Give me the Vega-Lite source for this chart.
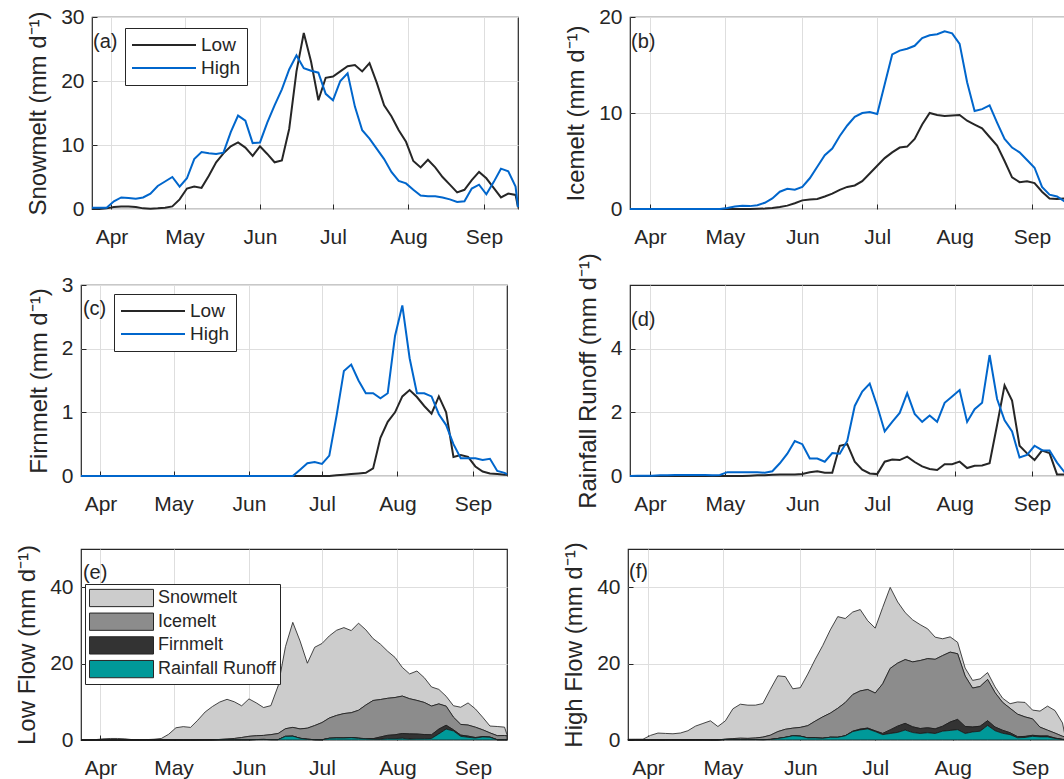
{
"$schema": "https://vega.github.io/schema/vega-lite/v6.json",
"background": "white",
"padding": {"left": 15, "top": 5, "right": -5, "bottom": 0},
"datasets": {"components": [
{"component":"Rainfall Runoff","rank":1},
{"component":"Firnmelt","rank":2},
{"component":"Icemelt","rank":3},
{"component":"Snowmelt","rank":4}
],
"flows": [
{"date":"2001-03-24","flow":"Low","Snowmelt":0,"Icemelt":0,"Firnmelt":0,"Rainfall Runoff":0},
{"date":"2001-03-27","flow":"Low","Snowmelt":0,"Icemelt":0,"Firnmelt":0,"Rainfall Runoff":0},
{"date":"2001-03-30","flow":"Low","Snowmelt":0.1,"Icemelt":0,"Firnmelt":0,"Rainfall Runoff":0},
{"date":"2001-04-02","flow":"Low","Snowmelt":0.3,"Icemelt":0,"Firnmelt":0,"Rainfall Runoff":0},
{"date":"2001-04-05","flow":"Low","Snowmelt":0.4,"Icemelt":0,"Firnmelt":0,"Rainfall Runoff":0},
{"date":"2001-04-08","flow":"Low","Snowmelt":0.4,"Icemelt":0,"Firnmelt":0,"Rainfall Runoff":0},
{"date":"2001-04-11","flow":"Low","Snowmelt":0.3,"Icemelt":0,"Firnmelt":0,"Rainfall Runoff":0},
{"date":"2001-04-14","flow":"Low","Snowmelt":0.1,"Icemelt":0,"Firnmelt":0,"Rainfall Runoff":0},
{"date":"2001-04-17","flow":"Low","Snowmelt":0.05,"Icemelt":0,"Firnmelt":0,"Rainfall Runoff":0},
{"date":"2001-04-20","flow":"Low","Snowmelt":0.1,"Icemelt":0,"Firnmelt":0,"Rainfall Runoff":0},
{"date":"2001-04-23","flow":"Low","Snowmelt":0.2,"Icemelt":0,"Firnmelt":0,"Rainfall Runoff":0},
{"date":"2001-04-26","flow":"Low","Snowmelt":0.4,"Icemelt":0,"Firnmelt":0,"Rainfall Runoff":0},
{"date":"2001-04-29","flow":"Low","Snowmelt":1.5,"Icemelt":0,"Firnmelt":0,"Rainfall Runoff":0},
{"date":"2001-05-02","flow":"Low","Snowmelt":3.2,"Icemelt":0,"Firnmelt":0,"Rainfall Runoff":0},
{"date":"2001-05-05","flow":"Low","Snowmelt":3.5,"Icemelt":0,"Firnmelt":0,"Rainfall Runoff":0},
{"date":"2001-05-08","flow":"Low","Snowmelt":3.3,"Icemelt":0,"Firnmelt":0,"Rainfall Runoff":0},
{"date":"2001-05-11","flow":"Low","Snowmelt":5.2,"Icemelt":0,"Firnmelt":0,"Rainfall Runoff":0.01},
{"date":"2001-05-14","flow":"Low","Snowmelt":7.3,"Icemelt":0.02,"Firnmelt":0,"Rainfall Runoff":0.02},
{"date":"2001-05-17","flow":"Low","Snowmelt":8.7,"Icemelt":0.05,"Firnmelt":0,"Rainfall Runoff":0.02},
{"date":"2001-05-20","flow":"Low","Snowmelt":9.8,"Icemelt":0.1,"Firnmelt":0,"Rainfall Runoff":0.04},
{"date":"2001-05-23","flow":"Low","Snowmelt":10.4,"Icemelt":0.2,"Firnmelt":0,"Rainfall Runoff":0.05},
{"date":"2001-05-26","flow":"Low","Snowmelt":9.6,"Icemelt":0.35,"Firnmelt":0,"Rainfall Runoff":0.05},
{"date":"2001-05-29","flow":"Low","Snowmelt":8.3,"Icemelt":0.6,"Firnmelt":0,"Rainfall Runoff":0.05},
{"date":"2001-06-01","flow":"Low","Snowmelt":9.8,"Icemelt":0.9,"Firnmelt":0,"Rainfall Runoff":0.06},
{"date":"2001-06-04","flow":"Low","Snowmelt":8.6,"Icemelt":1.0,"Firnmelt":0,"Rainfall Runoff":0.12},
{"date":"2001-06-07","flow":"Low","Snowmelt":7.3,"Icemelt":1.05,"Firnmelt":0,"Rainfall Runoff":0.15},
{"date":"2001-06-10","flow":"Low","Snowmelt":7.6,"Icemelt":1.3,"Firnmelt":0,"Rainfall Runoff":0.1},
{"date":"2001-06-13","flow":"Low","Snowmelt":12.5,"Icemelt":1.6,"Firnmelt":0,"Rainfall Runoff":0.1},
{"date":"2001-06-16","flow":"Low","Snowmelt":21.5,"Icemelt":2.0,"Firnmelt":0,"Rainfall Runoff":0.95},
{"date":"2001-06-19","flow":"Low","Snowmelt":27.5,"Icemelt":2.3,"Firnmelt":0,"Rainfall Runoff":1.0},
{"date":"2001-06-22","flow":"Low","Snowmelt":23,"Icemelt":2.45,"Firnmelt":0,"Rainfall Runoff":0.45},
{"date":"2001-06-25","flow":"Low","Snowmelt":17,"Icemelt":2.9,"Firnmelt":0,"Rainfall Runoff":0.2},
{"date":"2001-06-28","flow":"Low","Snowmelt":20.5,"Icemelt":3.7,"Firnmelt":0,"Rainfall Runoff":0.08},
{"date":"2001-07-01","flow":"Low","Snowmelt":20.7,"Icemelt":4.5,"Firnmelt":0,"Rainfall Runoff":0.06},
{"date":"2001-07-04","flow":"Low","Snowmelt":21.5,"Icemelt":5.3,"Firnmelt":0,"Rainfall Runoff":0.45},
{"date":"2001-07-07","flow":"Low","Snowmelt":22.3,"Icemelt":5.9,"Firnmelt":0.01,"Rainfall Runoff":0.52},
{"date":"2001-07-10","flow":"Low","Snowmelt":22.5,"Icemelt":6.4,"Firnmelt":0.02,"Rainfall Runoff":0.5},
{"date":"2001-07-13","flow":"Low","Snowmelt":21.5,"Icemelt":6.5,"Firnmelt":0.03,"Rainfall Runoff":0.61},
{"date":"2001-07-16","flow":"Low","Snowmelt":22.8,"Icemelt":7.3,"Firnmelt":0.04,"Rainfall Runoff":0.44},
{"date":"2001-07-19","flow":"Low","Snowmelt":19.7,"Icemelt":8.8,"Firnmelt":0.05,"Rainfall Runoff":0.3},
{"date":"2001-07-22","flow":"Low","Snowmelt":16.2,"Icemelt":10,"Firnmelt":0.12,"Rainfall Runoff":0.22},
{"date":"2001-07-25","flow":"Low","Snowmelt":14.5,"Icemelt":9.8,"Firnmelt":0.6,"Rainfall Runoff":0.19},
{"date":"2001-07-28","flow":"Low","Snowmelt":12.3,"Icemelt":9.7,"Firnmelt":0.85,"Rainfall Runoff":0.37},
{"date":"2001-07-31","flow":"Low","Snowmelt":10.5,"Icemelt":9.75,"Firnmelt":1.0,"Rainfall Runoff":0.37},
{"date":"2001-08-03","flow":"Low","Snowmelt":7.5,"Icemelt":9.8,"Firnmelt":1.25,"Rainfall Runoff":0.45},
{"date":"2001-08-06","flow":"Low","Snowmelt":6.5,"Icemelt":9.2,"Firnmelt":1.35,"Rainfall Runoff":0.25},
{"date":"2001-08-09","flow":"Low","Snowmelt":7.7,"Icemelt":8.8,"Firnmelt":1.24,"Rainfall Runoff":0.32},
{"date":"2001-08-12","flow":"Low","Snowmelt":6.5,"Icemelt":8.4,"Firnmelt":1.1,"Rainfall Runoff":0.33},
{"date":"2001-08-15","flow":"Low","Snowmelt":5.0,"Icemelt":7.5,"Firnmelt":0.98,"Rainfall Runoff":0.4},
{"date":"2001-08-18","flow":"Low","Snowmelt":3.8,"Icemelt":6.6,"Firnmelt":1.25,"Rainfall Runoff":1.6},
{"date":"2001-08-21","flow":"Low","Snowmelt":2.6,"Icemelt":5.0,"Firnmelt":1.0,"Rainfall Runoff":2.85},
{"date":"2001-08-24","flow":"Low","Snowmelt":3.0,"Icemelt":3.3,"Firnmelt":0.3,"Rainfall Runoff":2.37},
{"date":"2001-08-27","flow":"Low","Snowmelt":4.5,"Icemelt":2.8,"Firnmelt":0.33,"Rainfall Runoff":0.95},
{"date":"2001-08-30","flow":"Low","Snowmelt":5.8,"Icemelt":2.9,"Firnmelt":0.3,"Rainfall Runoff":0.71},
{"date":"2001-09-02","flow":"Low","Snowmelt":4.8,"Icemelt":2.7,"Firnmelt":0.15,"Rainfall Runoff":0.5},
{"date":"2001-09-05","flow":"Low","Snowmelt":3.3,"Icemelt":1.8,"Firnmelt":0.07,"Rainfall Runoff":0.8},
{"date":"2001-09-08","flow":"Low","Snowmelt":1.8,"Icemelt":1.1,"Firnmelt":0.04,"Rainfall Runoff":0.72},
{"date":"2001-09-11","flow":"Low","Snowmelt":2.4,"Icemelt":1.05,"Firnmelt":0.03,"Rainfall Runoff":0.05},
{"date":"2001-09-14","flow":"Low","Snowmelt":2.2,"Icemelt":1.1,"Firnmelt":0.02,"Rainfall Runoff":0.05},
{"date":"2001-09-15","flow":"Low","Snowmelt":0.3,"Icemelt":1.0,"Firnmelt":0.02,"Rainfall Runoff":0.05},
{"date":"2001-03-24","flow":"High","Snowmelt":0.2,"Icemelt":0,"Firnmelt":0,"Rainfall Runoff":0},
{"date":"2001-03-27","flow":"High","Snowmelt":0.2,"Icemelt":0,"Firnmelt":0,"Rainfall Runoff":0.01},
{"date":"2001-03-30","flow":"High","Snowmelt":0.2,"Icemelt":0,"Firnmelt":0,"Rainfall Runoff":0.01},
{"date":"2001-04-02","flow":"High","Snowmelt":1.2,"Icemelt":0,"Firnmelt":0,"Rainfall Runoff":0.01},
{"date":"2001-04-05","flow":"High","Snowmelt":1.8,"Icemelt":0,"Firnmelt":0,"Rainfall Runoff":0.02},
{"date":"2001-04-08","flow":"High","Snowmelt":1.7,"Icemelt":0,"Firnmelt":0,"Rainfall Runoff":0.02},
{"date":"2001-04-11","flow":"High","Snowmelt":1.6,"Icemelt":0,"Firnmelt":0,"Rainfall Runoff":0.03},
{"date":"2001-04-14","flow":"High","Snowmelt":1.8,"Icemelt":0,"Firnmelt":0,"Rainfall Runoff":0.03},
{"date":"2001-04-17","flow":"High","Snowmelt":2.4,"Icemelt":0,"Firnmelt":0,"Rainfall Runoff":0.03},
{"date":"2001-04-20","flow":"High","Snowmelt":3.6,"Icemelt":0,"Firnmelt":0,"Rainfall Runoff":0.03},
{"date":"2001-04-23","flow":"High","Snowmelt":4.3,"Icemelt":0,"Firnmelt":0,"Rainfall Runoff":0.03},
{"date":"2001-04-26","flow":"High","Snowmelt":5.0,"Icemelt":0,"Firnmelt":0,"Rainfall Runoff":0.02},
{"date":"2001-04-29","flow":"High","Snowmelt":3.5,"Icemelt":0,"Firnmelt":0,"Rainfall Runoff":0.03},
{"date":"2001-05-02","flow":"High","Snowmelt":4.8,"Icemelt":0.1,"Firnmelt":0,"Rainfall Runoff":0.12},
{"date":"2001-05-05","flow":"High","Snowmelt":7.8,"Icemelt":0.25,"Firnmelt":0,"Rainfall Runoff":0.12},
{"date":"2001-05-08","flow":"High","Snowmelt":8.9,"Icemelt":0.35,"Firnmelt":0,"Rainfall Runoff":0.12},
{"date":"2001-05-11","flow":"High","Snowmelt":8.7,"Icemelt":0.3,"Firnmelt":0,"Rainfall Runoff":0.12},
{"date":"2001-05-14","flow":"High","Snowmelt":8.6,"Icemelt":0.4,"Firnmelt":0,"Rainfall Runoff":0.12},
{"date":"2001-05-17","flow":"High","Snowmelt":8.8,"Icemelt":0.65,"Firnmelt":0,"Rainfall Runoff":0.1},
{"date":"2001-05-20","flow":"High","Snowmelt":12,"Icemelt":1.1,"Firnmelt":0,"Rainfall Runoff":0.15},
{"date":"2001-05-23","flow":"High","Snowmelt":14.6,"Icemelt":1.8,"Firnmelt":0,"Rainfall Runoff":0.4},
{"date":"2001-05-26","flow":"High","Snowmelt":13.8,"Icemelt":2.1,"Firnmelt":0,"Rainfall Runoff":0.7},
{"date":"2001-05-29","flow":"High","Snowmelt":10.3,"Icemelt":2.0,"Firnmelt":0,"Rainfall Runoff":1.1},
{"date":"2001-06-01","flow":"High","Snowmelt":10.4,"Icemelt":2.3,"Firnmelt":0,"Rainfall Runoff":1.0},
{"date":"2001-06-04","flow":"High","Snowmelt":13.5,"Icemelt":3.2,"Firnmelt":0,"Rainfall Runoff":0.55},
{"date":"2001-06-07","flow":"High","Snowmelt":16.2,"Icemelt":4.4,"Firnmelt":0,"Rainfall Runoff":0.55},
{"date":"2001-06-10","flow":"High","Snowmelt":18.7,"Icemelt":5.6,"Firnmelt":0,"Rainfall Runoff":0.45},
{"date":"2001-06-13","flow":"High","Snowmelt":21.8,"Icemelt":6.3,"Firnmelt":0,"Rainfall Runoff":0.72},
{"date":"2001-06-16","flow":"High","Snowmelt":24,"Icemelt":7.6,"Firnmelt":0,"Rainfall Runoff":0.7},
{"date":"2001-06-19","flow":"High","Snowmelt":22,"Icemelt":8.7,"Firnmelt":0,"Rainfall Runoff":1.1},
{"date":"2001-06-22","flow":"High","Snowmelt":21.6,"Icemelt":9.6,"Firnmelt":0.1,"Rainfall Runoff":2.2},
{"date":"2001-06-25","flow":"High","Snowmelt":21.3,"Icemelt":10,"Firnmelt":0.2,"Rainfall Runoff":2.65},
{"date":"2001-06-28","flow":"High","Snowmelt":18,"Icemelt":10.1,"Firnmelt":0.22,"Rainfall Runoff":2.9},
{"date":"2001-07-01","flow":"High","Snowmelt":17,"Icemelt":9.9,"Firnmelt":0.19,"Rainfall Runoff":2.2},
{"date":"2001-07-04","flow":"High","Snowmelt":20,"Icemelt":13,"Firnmelt":0.32,"Rainfall Runoff":1.4},
{"date":"2001-07-07","flow":"High","Snowmelt":21.2,"Icemelt":16.1,"Firnmelt":0.95,"Rainfall Runoff":1.7},
{"date":"2001-07-10","flow":"High","Snowmelt":16,"Icemelt":16.5,"Firnmelt":1.65,"Rainfall Runoff":1.98},
{"date":"2001-07-13","flow":"High","Snowmelt":12.3,"Icemelt":16.7,"Firnmelt":1.75,"Rainfall Runoff":2.6},
{"date":"2001-07-16","flow":"High","Snowmelt":11,"Icemelt":17,"Firnmelt":1.5,"Rainfall Runoff":1.95},
{"date":"2001-07-19","flow":"High","Snowmelt":9.4,"Icemelt":17.8,"Firnmelt":1.3,"Rainfall Runoff":1.7},
{"date":"2001-07-22","flow":"High","Snowmelt":7.8,"Icemelt":18.1,"Firnmelt":1.3,"Rainfall Runoff":1.9},
{"date":"2001-07-25","flow":"High","Snowmelt":5.8,"Icemelt":18.2,"Firnmelt":1.22,"Rainfall Runoff":1.7},
{"date":"2001-07-28","flow":"High","Snowmelt":4.4,"Icemelt":18.5,"Firnmelt":1.3,"Rainfall Runoff":2.3},
{"date":"2001-07-31","flow":"High","Snowmelt":4.0,"Icemelt":18.3,"Firnmelt":2.2,"Rainfall Runoff":2.5},
{"date":"2001-08-03","flow":"High","Snowmelt":3.0,"Icemelt":17.2,"Firnmelt":2.68,"Rainfall Runoff":2.7},
{"date":"2001-08-06","flow":"High","Snowmelt":2.1,"Icemelt":13.2,"Firnmelt":1.85,"Rainfall Runoff":1.7},
{"date":"2001-08-09","flow":"High","Snowmelt":2.0,"Icemelt":10.2,"Firnmelt":1.3,"Rainfall Runoff":2.1},
{"date":"2001-08-12","flow":"High","Snowmelt":2.0,"Icemelt":10.4,"Firnmelt":1.3,"Rainfall Runoff":2.3},
{"date":"2001-08-15","flow":"High","Snowmelt":1.8,"Icemelt":10.8,"Firnmelt":1.25,"Rainfall Runoff":3.8},
{"date":"2001-08-18","flow":"High","Snowmelt":1.5,"Icemelt":9.0,"Firnmelt":0.97,"Rainfall Runoff":2.42},
{"date":"2001-08-21","flow":"High","Snowmelt":1.1,"Icemelt":7.3,"Firnmelt":0.8,"Rainfall Runoff":1.75},
{"date":"2001-08-24","flow":"High","Snowmelt":1.2,"Icemelt":6.4,"Firnmelt":0.5,"Rainfall Runoff":1.4},
{"date":"2001-08-27","flow":"High","Snowmelt":3.2,"Icemelt":5.9,"Firnmelt":0.28,"Rainfall Runoff":0.58},
{"date":"2001-08-30","flow":"High","Snowmelt":3.8,"Icemelt":5.1,"Firnmelt":0.28,"Rainfall Runoff":0.66},
{"date":"2001-09-02","flow":"High","Snowmelt":2.3,"Icemelt":4.3,"Firnmelt":0.28,"Rainfall Runoff":0.95},
{"date":"2001-09-05","flow":"High","Snowmelt":4.2,"Icemelt":2.3,"Firnmelt":0.25,"Rainfall Runoff":0.81},
{"date":"2001-09-08","flow":"High","Snowmelt":6.3,"Icemelt":1.5,"Firnmelt":0.27,"Rainfall Runoff":0.8},
{"date":"2001-09-11","flow":"High","Snowmelt":5.9,"Icemelt":1.3,"Firnmelt":0.08,"Rainfall Runoff":0.42},
{"date":"2001-09-14","flow":"High","Snowmelt":3.5,"Icemelt":0.8,"Firnmelt":0.05,"Rainfall Runoff":0.12},
{"date":"2001-09-15","flow":"High","Snowmelt":0.3,"Icemelt":0.7,"Firnmelt":0.03,"Rainfall Runoff":0.1}
]},
"config": {
  "font": "Liberation Sans",
  "view": {"stroke": "#262626", "strokeWidth": 1.2},
  "axis": {"labelFont": "Liberation Sans", "titleFont": "Liberation Sans", "labelFontSize": 21, "labelColor": "#262626", "titleFontSize": 24, "titleFontWeight": "normal", "titleColor": "#262626", "ticks": true, "tickSize": -5, "tickColor": "#262626", "tickWidth": 1, "domain": false, "grid": true, "gridColor": "#dedede", "gridWidth": 1, "labelOverlap": false},
  "axisX": {"labelPadding": 22},
  "axisY": {"labelPadding": 13, "titlePadding": 10},
  "legend": {"labelFont": "Liberation Sans", "labelColor": "#262626", "strokeColor": "#262626", "fillColor": "white", "title": null},
  "text": {"font": "Liberation Sans", "fontSize": 20, "color": "#262626"}
},
"spacing": 4,
"resolve": {"scale": {"color": "independent"}, "legend": {"color": "independent"}},
"vconcat": [
 {"hconcat": [
   {"hconcat": [
     {"width": 1, "height": 1, "view": {"stroke": null}, "data": {"values": []}, "mark": "point"},
     {"width": 426, "height": 192, "layer": [
       {"data": {"name": "flows"}, "mark": {"type": "line", "strokeWidth": 2},
        "encoding": {
          "x": {"field": "date", "type": "temporal", "title": null, "scale": {"type": "utc", "domain": [{"year":2001,"month":3,"date":24,"utc":true},{"year":2001,"month":9,"date":15,"utc":true}]}, "axis": {"labelExpr": "utcFormat(datum.value, '%b')", "values": [{"year":2001,"month":4,"date":1,"utc":true},{"year":2001,"month":5,"date":1,"utc":true},{"year":2001,"month":6,"date":1,"utc":true},{"year":2001,"month":7,"date":1,"utc":true},{"year":2001,"month":8,"date":1,"utc":true},{"year":2001,"month":9,"date":1,"utc":true}]}},
          "y": {"field": "Snowmelt", "type": "quantitative", "scale": {"domain": [0, 30]}, "axis": {"values": [0, 10, 20, 30], "format": "d", "title": "Snowmelt (mm d⁻¹)"}},
          "color": {"field": "flow", "type": "nominal", "sort": ["Low", "High"], "scale": {"domain": ["Low", "High"], "range": ["#262626", "#0066cc"]},
            "legend": {"orient": "none", "legendX": 33, "legendY": 11, "title": null, "symbolType": "stroke", "symbolSize": 4096, "symbolStrokeWidth": 2, "labelFontSize": 19, "labelOffset": 4, "clipHeight": 22, "rowPadding": 1, "padding": 6}}
        }},
       {"data": {"values": [{"label": "(a)"}]}, "mark": {"type": "text", "align": "left", "baseline": "middle"},
        "encoding": {"x": {"datum": {"year":2001,"month":3,"date":24,"hours":10,"utc":true}, "type": "temporal"}, "y": {"datum": 26.1}, "text": {"field": "label"}}}
     ]}
   ], "spacing": -56, "resolve": {"scale": {"color": "independent"}, "legend": {"color": "independent"}}},
   {"width": 437, "height": 192, "layer": [
     {"data": {"name": "flows"}, "mark": {"type": "line", "strokeWidth": 2},
      "encoding": {
        "x": {"field": "date", "type": "temporal", "title": null, "scale": {"type": "utc", "domain": [{"year":2001,"month":3,"date":24,"utc":true},{"year":2001,"month":9,"date":15,"utc":true}]}, "axis": {"labelExpr": "utcFormat(datum.value, '%b')", "values": [{"year":2001,"month":4,"date":1,"utc":true},{"year":2001,"month":5,"date":1,"utc":true},{"year":2001,"month":6,"date":1,"utc":true},{"year":2001,"month":7,"date":1,"utc":true},{"year":2001,"month":8,"date":1,"utc":true},{"year":2001,"month":9,"date":1,"utc":true}]}},
        "y": {"field": "Icemelt", "type": "quantitative", "scale": {"domain": [0, 20]}, "axis": {"values": [0, 10, 20], "format": "d", "title": "Icemelt (mm d⁻¹)"}},
        "color": {"field": "flow", "type": "nominal", "sort": ["Low", "High"], "scale": {"domain": ["Low", "High"], "range": ["#262626", "#0066cc"]}, "legend": null}
      }},
     {"data": {"values": [{"label": "(b)"}]}, "mark": {"type": "text", "align": "left", "baseline": "middle"},
      "encoding": {"x": {"datum": {"year":2001,"month":3,"date":24,"hours":10,"utc":true}, "type": "temporal"}, "y": {"datum": 17.4}, "text": {"field": "label"}}}
   ]}
 ], "spacing": 41, "resolve": {"scale": {"color": "independent"}, "legend": {"color": "independent"}}},
 {"hconcat": [
   {"width": 426, "height": 191, "layer": [
     {"data": {"name": "flows"}, "mark": {"type": "line", "strokeWidth": 2},
      "encoding": {
        "x": {"field": "date", "type": "temporal", "title": null, "scale": {"type": "utc", "domain": [{"year":2001,"month":3,"date":24,"utc":true},{"year":2001,"month":9,"date":15,"utc":true}]}, "axis": {"labelExpr": "utcFormat(datum.value, '%b')", "minExtent": 60, "values": [{"year":2001,"month":4,"date":1,"utc":true},{"year":2001,"month":5,"date":1,"utc":true},{"year":2001,"month":6,"date":1,"utc":true},{"year":2001,"month":7,"date":1,"utc":true},{"year":2001,"month":8,"date":1,"utc":true},{"year":2001,"month":9,"date":1,"utc":true}]}},
        "y": {"field": "Firnmelt", "type": "quantitative", "scale": {"domain": [0, 3]}, "axis": {"values": [0, 1, 2, 3], "format": "d", "title": "Firnmelt (mm d⁻¹)"}},
        "color": {"field": "flow", "type": "nominal", "sort": ["Low", "High"], "scale": {"domain": ["Low", "High"], "range": ["#262626", "#0066cc"]},
          "legend": {"orient": "none", "legendX": 33, "legendY": 9, "title": null, "symbolType": "stroke", "symbolSize": 4096, "symbolStrokeWidth": 2, "labelFontSize": 19, "labelOffset": 4, "clipHeight": 22, "rowPadding": 1, "padding": 6}}
      }},
     {"data": {"values": [{"label": "(c)"}]}, "mark": {"type": "text", "align": "left", "baseline": "middle"},
      "encoding": {"x": {"datum": {"year":2001,"month":3,"date":24,"hours":19,"utc":true}, "type": "temporal"}, "y": {"datum": 2.62}, "text": {"field": "label"}}}
   ]},
   {"width": 437, "height": 191, "layer": [
     {"data": {"name": "flows"}, "mark": {"type": "line", "strokeWidth": 2},
      "encoding": {
        "x": {"field": "date", "type": "temporal", "title": null, "scale": {"type": "utc", "domain": [{"year":2001,"month":3,"date":24,"utc":true},{"year":2001,"month":9,"date":15,"utc":true}]}, "axis": {"labelExpr": "utcFormat(datum.value, '%b')", "minExtent": 60, "values": [{"year":2001,"month":4,"date":1,"utc":true},{"year":2001,"month":5,"date":1,"utc":true},{"year":2001,"month":6,"date":1,"utc":true},{"year":2001,"month":7,"date":1,"utc":true},{"year":2001,"month":8,"date":1,"utc":true},{"year":2001,"month":9,"date":1,"utc":true}]}},
        "y": {"field": "Rainfall Runoff", "type": "quantitative", "scale": {"domain": [0, 5.6]}, "axis": {"values": [0, 2, 4], "format": "d", "title": "Rainfall Runoff (mm d⁻¹)"}},
        "color": {"field": "flow", "type": "nominal", "sort": ["Low", "High"], "scale": {"domain": ["Low", "High"], "range": ["#262626", "#0066cc"]}, "legend": null}
      }},
     {"data": {"values": [{"label": "(d)"}]}, "mark": {"type": "text", "align": "left", "baseline": "middle"},
      "encoding": {"x": {"datum": {"year":2001,"month":3,"date":24,"hours":10,"utc":true}, "type": "temporal"}, "y": {"datum": 4.9}, "text": {"field": "label"}}}
   ]}
 ], "spacing": 63, "resolve": {"scale": {"color": "independent"}, "legend": {"color": "independent"}}},
 {"hconcat": [
   {"width": 426, "height": 191, "layer": [
     {"data": {"name": "flows"},
      "transform": [{"filter": "datum.flow === 'Low'"}, {"fold": ["Snowmelt", "Icemelt", "Firnmelt", "Rainfall Runoff"], "as": ["component", "value"]}, {"lookup": "component", "from": {"data": {"name": "components"}, "key": "component", "fields": ["rank"]}}],
      "mark": {"type": "area", "stroke": "#1a1a1a", "strokeWidth": 0.8, "opacity": 1},
      "encoding": {
        "x": {"field": "date", "type": "temporal", "title": null, "scale": {"type": "utc", "domain": [{"year":2001,"month":3,"date":24,"utc":true},{"year":2001,"month":9,"date":15,"utc":true}]}, "axis": {"labelExpr": "utcFormat(datum.value, '%b')", "values": [{"year":2001,"month":4,"date":1,"utc":true},{"year":2001,"month":5,"date":1,"utc":true},{"year":2001,"month":6,"date":1,"utc":true},{"year":2001,"month":7,"date":1,"utc":true},{"year":2001,"month":8,"date":1,"utc":true},{"year":2001,"month":9,"date":1,"utc":true}]}},
        "y": {"field": "value", "type": "quantitative", "stack": "zero", "scale": {"domain": [0, 50]}, "axis": {"values": [0, 20, 40], "format": "d", "title": "Low Flow (mm d⁻¹)"}},
        "order": {"field": "rank", "type": "quantitative", "sort": "ascending"},
        "color": {"field": "component", "type": "nominal", "scale": {"domain": ["Snowmelt", "Icemelt", "Firnmelt", "Rainfall Runoff"], "range": ["#cccccc", "#8c8c8c", "#333333", "#009999"]},
          "legend": {"orient": "none", "legendX": 4, "legendY": 35, "title": null, "values": ["Snowmelt", "Icemelt", "Firnmelt", "Rainfall Runoff"], "symbolType": "M-1,-0.27H1V0.27H-1Z", "symbolSize": 4096, "symbolStrokeColor": "#262626", "symbolStrokeWidth": 1, "symbolOpacity": 1, "labelFontSize": 18, "labelOffset": 4, "clipHeight": 20, "rowPadding": 3.7, "padding": 4}}
      }},
     {"data": {"values": [{"label": "(e)"}]}, "mark": {"type": "text", "align": "left", "baseline": "middle"},
      "encoding": {"x": {"datum": {"year":2001,"month":3,"date":24,"hours":19,"utc":true}, "type": "temporal"}, "y": {"datum": 43.7}, "text": {"field": "label"}}}
   ]},
   {"width": 437, "height": 191, "layer": [
     {"data": {"name": "flows"},
      "transform": [{"filter": "datum.flow === 'High'"}, {"fold": ["Snowmelt", "Icemelt", "Firnmelt", "Rainfall Runoff"], "as": ["component", "value"]}, {"lookup": "component", "from": {"data": {"name": "components"}, "key": "component", "fields": ["rank"]}}],
      "mark": {"type": "area", "stroke": "#1a1a1a", "strokeWidth": 0.8, "opacity": 1},
      "encoding": {
        "x": {"field": "date", "type": "temporal", "title": null, "scale": {"type": "utc", "domain": [{"year":2001,"month":3,"date":24,"utc":true},{"year":2001,"month":9,"date":15,"utc":true}]}, "axis": {"labelExpr": "utcFormat(datum.value, '%b')", "values": [{"year":2001,"month":4,"date":1,"utc":true},{"year":2001,"month":5,"date":1,"utc":true},{"year":2001,"month":6,"date":1,"utc":true},{"year":2001,"month":7,"date":1,"utc":true},{"year":2001,"month":8,"date":1,"utc":true},{"year":2001,"month":9,"date":1,"utc":true}]}},
        "y": {"field": "value", "type": "quantitative", "stack": "zero", "scale": {"domain": [0, 50]}, "axis": {"values": [0, 20, 40], "format": "d", "title": "High Flow (mm d⁻¹)"}},
        "order": {"field": "rank", "type": "quantitative", "sort": "ascending"},
        "color": {"field": "component", "type": "nominal", "scale": {"domain": ["Snowmelt", "Icemelt", "Firnmelt", "Rainfall Runoff"], "range": ["#cccccc", "#8c8c8c", "#333333", "#009999"]}, "legend": null}
      }},
     {"data": {"values": [{"label": "(f)"}]}, "mark": {"type": "text", "align": "left", "baseline": "middle"},
      "encoding": {"x": {"datum": {"year":2001,"month":3,"date":24,"hours":10,"utc":true}, "type": "temporal"}, "y": {"datum": 44}, "text": {"field": "label"}}}
   ]}
 ], "spacing": 52, "resolve": {"scale": {"color": "independent"}, "legend": {"color": "independent"}}}
]
}
